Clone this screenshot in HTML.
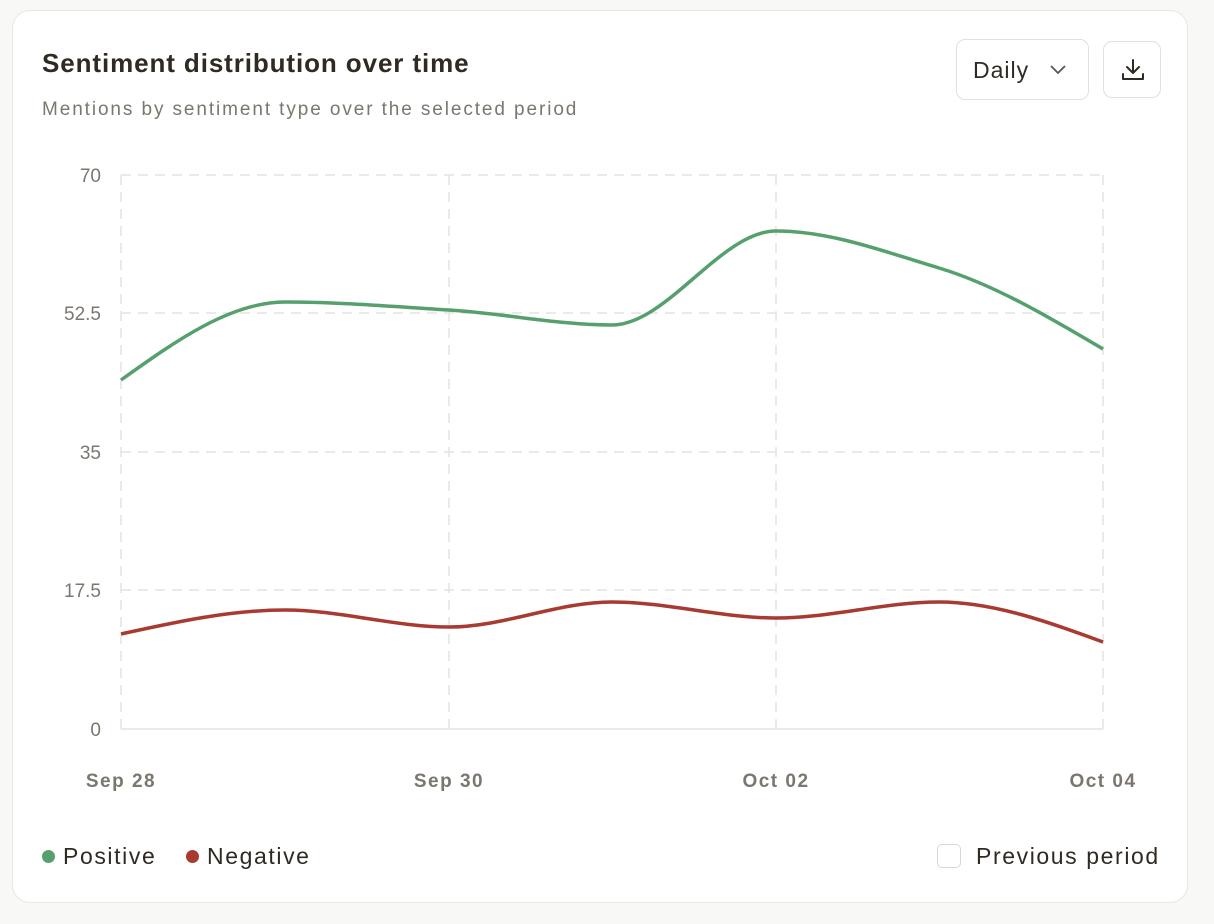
<!DOCTYPE html>
<html><head><meta charset="utf-8"><style>
html,body{margin:0;padding:0;background:#f8f8f7;width:1214px;height:924px;overflow:hidden;font-family:"Liberation Sans",sans-serif;}
.card{position:absolute;left:12px;top:10px;width:1176px;height:893px;background:#fff;border:1px solid #e8e7e3;border-radius:18px;box-sizing:border-box;}
.t{position:absolute;left:42px;top:48px;font-size:26px;color:#2f2a22;font-weight:bold;letter-spacing:0.9px;}
.s{position:absolute;left:42px;top:99px;font-size:19px;color:#7b776f;letter-spacing:1.9px;}
.btn{position:absolute;border:1px solid #e2e1dc;border-radius:9px;background:#fff;box-sizing:border-box;}
.lg{position:absolute;top:843px;font-size:23px;color:#2f2a22;letter-spacing:1.6px;}
.dot{display:inline-block;width:13px;height:13px;border-radius:50%;margin-right:8px;vertical-align:1px;}
</style></head><body>
<div class="card"></div>
<div class="t">Sentiment distribution over time</div>
<div class="s">Mentions by sentiment type over the selected period</div>
<div class="btn" style="left:956px;top:39px;width:133px;height:61px;">
 <span style="position:absolute;left:16px;top:17px;font-size:23px;color:#2f2a22;letter-spacing:1px;">Daily</span>
 <svg style="position:absolute;left:92px;top:24px" width="18" height="12"><path d="M2 2 L9 9 L16 2" fill="none" stroke="#5a564e" stroke-width="1.8"/></svg>
</div>
<div class="btn" style="left:1103px;top:41px;width:58px;height:57px;">
 <svg style="position:absolute;left:16px;top:15px" width="26" height="26" viewBox="0 0 26 26"><path d="M13 3 V16 M7 10 L13 16 L19 10 M3 17 V22 H23 V17" fill="none" stroke="#2f2a22" stroke-width="2" stroke-linecap="round" stroke-linejoin="round"/></svg>
</div>
<svg style="position:absolute;left:0;top:0" width="1214" height="924">
 <g stroke="#e4e3e0" stroke-width="1.5" stroke-dasharray="10 7" fill="none">
  <line x1="121" y1="175" x2="1103" y2="175"/><line x1="121" y1="313" x2="1103" y2="313"/>
  <line x1="121" y1="452" x2="1103" y2="452"/><line x1="121" y1="590" x2="1103" y2="590"/>
  <line x1="121" y1="175" x2="121" y2="729"/><line x1="449" y1="175" x2="449" y2="729"/>
  <line x1="776" y1="175" x2="776" y2="729"/><line x1="1103" y1="175" x2="1103" y2="729"/>
 </g>
 <line x1="121" y1="729" x2="1103" y2="729" stroke="#e4e3e0" stroke-width="1.5"/>
 <g font-size="19" fill="#7b776f" text-anchor="end" font-family="Liberation Sans">
  <text x="101" y="182">70</text><text x="101" y="320">52.5</text><text x="101" y="459">35</text>
  <text x="101" y="597">17.5</text><text x="101" y="736">0</text>
 </g>
 <g font-size="19" fill="#7b776f" text-anchor="middle" font-weight="bold" font-family="Liberation Sans" letter-spacing="1.5">
  <text x="121" y="787">Sep 28</text><text x="449" y="787">Sep 30</text><text x="776" y="787">Oct 02</text><text x="1103" y="787">Oct 04</text>
 </g>
 <path d="M121 380 C175.6,341 230.4,302 285,302 C339.6,302 394.4,306.7 449,310 C503.6,313.3 557.4,325 612,325 C666.6,325 721.4,231 776,231 C830.6,231 884.4,251.6 939,268 C993.6,284.4 1048.4,316.8 1103,349" fill="none" stroke="#56a06e" stroke-width="3.5"/>
 <path d="M121 634 C175.6,622 230.4,610 285,610 C339.6,610 394.4,627 449,627 C503.6,627 557.4,602 612,602 C666.6,602 721.4,618 776,618 C830.6,618 884.4,602 939,602 C993.6,602 1048.4,622 1103,642" fill="none" stroke="#a83a32" stroke-width="3.5"/>
</svg>
<div class="lg" style="left:42px;"><span class="dot" style="background:#56a06e"></span>Positive</div>
<div class="lg" style="left:186px;"><span class="dot" style="background:#a83a32"></span>Negative</div>
<div style="position:absolute;left:937px;top:844px;width:24px;height:24px;border:1px solid #d9d8d3;border-radius:5px;box-sizing:border-box;"></div>
<div class="lg" style="left:976px;">Previous period</div>
</body></html>
